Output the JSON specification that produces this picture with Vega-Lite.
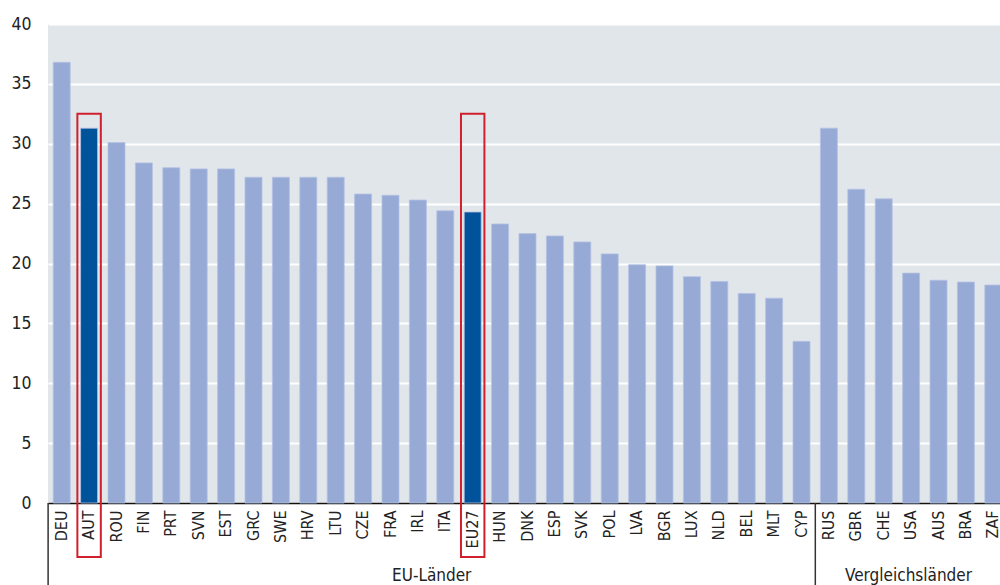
{
  "$schema": "https://vega.github.io/schema/vega-lite/v6.json",
  "width": 952,
  "height": 479,
  "autosize": {"type": "none"},
  "padding": {"left": 48, "top": 24, "right": 0, "bottom": 82},
  "background": "white",
  "config": {
    "view": {"fill": "#e1e6eb", "stroke": null},
    "font": "'DejaVu Sans Condensed', 'Liberation Sans Narrow', 'Roboto Condensed', sans-serif"
  },
  "datasets": {
    "bars": [
      {"country": "DEU", "value": 36.8, "group": "EU-Länder", "hl": "no"},
      {"country": "AUT", "value": 31.3, "group": "EU-Länder", "hl": "yes"},
      {"country": "ROU", "value": 30.1, "group": "EU-Länder", "hl": "no"},
      {"country": "FIN", "value": 28.4, "group": "EU-Länder", "hl": "no"},
      {"country": "PRT", "value": 28.0, "group": "EU-Länder", "hl": "no"},
      {"country": "SVN", "value": 27.9, "group": "EU-Länder", "hl": "no"},
      {"country": "EST", "value": 27.9, "group": "EU-Länder", "hl": "no"},
      {"country": "GRC", "value": 27.2, "group": "EU-Länder", "hl": "no"},
      {"country": "SWE", "value": 27.2, "group": "EU-Länder", "hl": "no"},
      {"country": "HRV", "value": 27.2, "group": "EU-Länder", "hl": "no"},
      {"country": "LTU", "value": 27.2, "group": "EU-Länder", "hl": "no"},
      {"country": "CZE", "value": 25.8, "group": "EU-Länder", "hl": "no"},
      {"country": "FRA", "value": 25.7, "group": "EU-Länder", "hl": "no"},
      {"country": "IRL", "value": 25.3, "group": "EU-Länder", "hl": "no"},
      {"country": "ITA", "value": 24.4, "group": "EU-Länder", "hl": "no"},
      {"country": "EU27", "value": 24.3, "group": "EU-Länder", "hl": "yes"},
      {"country": "HUN", "value": 23.3, "group": "EU-Länder", "hl": "no"},
      {"country": "DNK", "value": 22.5, "group": "EU-Länder", "hl": "no"},
      {"country": "ESP", "value": 22.3, "group": "EU-Länder", "hl": "no"},
      {"country": "SVK", "value": 21.8, "group": "EU-Länder", "hl": "no"},
      {"country": "POL", "value": 20.8, "group": "EU-Länder", "hl": "no"},
      {"country": "LVA", "value": 19.9, "group": "EU-Länder", "hl": "no"},
      {"country": "BGR", "value": 19.8, "group": "EU-Länder", "hl": "no"},
      {"country": "LUX", "value": 18.9, "group": "EU-Länder", "hl": "no"},
      {"country": "NLD", "value": 18.5, "group": "EU-Länder", "hl": "no"},
      {"country": "BEL", "value": 17.5, "group": "EU-Länder", "hl": "no"},
      {"country": "MLT", "value": 17.1, "group": "EU-Länder", "hl": "no"},
      {"country": "CYP", "value": 13.5, "group": "EU-Länder", "hl": "no"},
      {"country": "RUS", "value": 31.3, "group": "Vergleichsländer", "hl": "no"},
      {"country": "GBR", "value": 26.2, "group": "Vergleichsländer", "hl": "no"},
      {"country": "CHE", "value": 25.4, "group": "Vergleichsländer", "hl": "no"},
      {"country": "USA", "value": 19.2, "group": "Vergleichsländer", "hl": "no"},
      {"country": "AUS", "value": 18.6, "group": "Vergleichsländer", "hl": "no"},
      {"country": "BRA", "value": 18.45, "group": "Vergleichsländer", "hl": "no"},
      {"country": "ZAF", "value": 18.2, "group": "Vergleichsländer", "hl": "no"}
    ],
    "boxes": [{"country": "AUT"}, {"country": "EU27"}],
    "groups": [
      {"country": "ITA", "label": "EU-Länder"}
    ],
    "groups2": [
      {"country": "USA", "label": "Vergleichsländer"}
    ],
    "seps": [{"country": "DEU"}, {"country": "RUS"}]
  },
  "encoding": {
    "x": {
      "field": "country",
      "type": "nominal",
      "sort": null,
      "scale": {"range": [0, 959], "paddingInner": 0.38, "paddingOuter": 0.19},
      "axis": {
        "title": null,
        "labelAngle": 270,
        "labelFontSize": 16,
        "labelColor": "#222",
        "labelPadding": 7,
        "ticks": false,
        "domainColor": "#111",
        "domainWidth": 1.5,
        "grid": false
      }
    }
  },
  "layer": [
    {
      "data": {"name": "bars"},
      "mark": {"type": "bar", "stroke": "#b4c2e2", "strokeWidth": 0.8},
      "encoding": {
        "y": {
          "field": "value",
          "type": "quantitative",
          "scale": {"domain": [0, 40], "nice": false},
          "axis": {
            "title": null,
            "values": [0, 5, 10, 15, 20, 25, 30, 35, 40],
            "labelFontSize": 17.5,
            "labelColor": "#222",
            "labelPadding": 17,
            "ticks": false,
            "domain": false,
            "gridColor": "white",
            "gridWidth": 2,
            "gridOpacity": 1
          }
        },
        "color": {
          "field": "hl",
          "type": "nominal",
          "scale": {"domain": ["no", "yes"], "range": ["#97aad6", "#00529b"]},
          "legend": null
        }
      }
    },
    {
      "data": {"name": "boxes"},
      "mark": {"type": "bar", "fill": null, "filled": false, "stroke": "#d0202e", "strokeWidth": 2, "width": {"band": 1.38}},
      "encoding": {
        "y": {"datum": 32.5},
        "y2": {"datum": -4.5}
      }
    },
    {
      "data": {"name": "seps"},
      "mark": {"type": "rule", "color": "#333", "strokeWidth": 1.5},
      "encoding": {
        "x": {"field": "country", "type": "nominal", "sort": null, "bandPosition": -0.3},
        "y": {"datum": 0},
        "y2": {"datum": -7}
      }
    },
    {
      "data": {"name": "groups"},
      "mark": {"type": "text", "fontSize": 17, "color": "#222", "align": "center", "baseline": "alphabetic"},
      "encoding": {
        "x": {"field": "country", "type": "nominal", "sort": null, "bandPosition": -0.3},
        "y": {"datum": -6.5},
        "text": {"field": "label"}
      }
    },
    {
      "data": {"name": "groups2"},
      "mark": {"type": "text", "fontSize": 17, "color": "#222", "align": "center", "baseline": "alphabetic"},
      "encoding": {
        "x": {"field": "country", "type": "nominal", "sort": null, "bandPosition": 0.35},
        "y": {"datum": -6.5},
        "text": {"field": "label"}
      }
    }
  ]
}
